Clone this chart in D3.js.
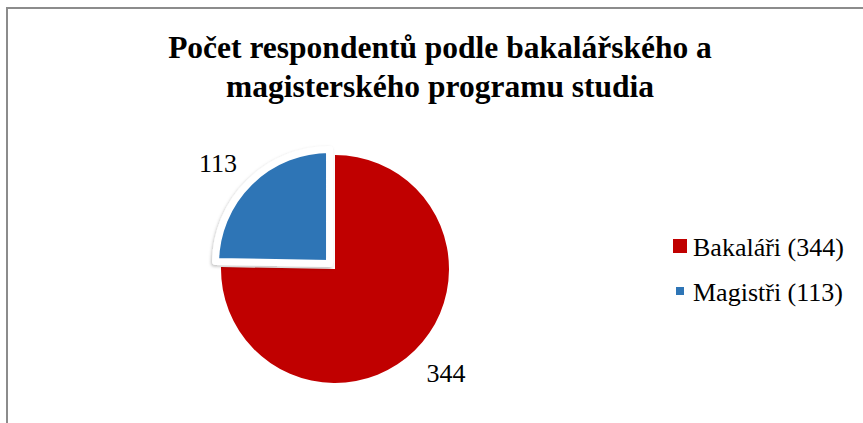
<!DOCTYPE html>
<html>
<head>
<meta charset="utf-8">
<script src="https://cdn.jsdelivr.net/npm/d3@7"></script>
<style>
  html, body { margin: 0; padding: 0; background: #ffffff; }
  svg { display: block; }
  svg text { font-family: "Liberation Serif", "Times New Roman", Times, "Nimbus Roman", "DejaVu Serif", serif; }
</style>
</head>
<body>
<svg id="chart" width="863" height="423"></svg>
<script>
const categories = ["Bakaláři", "Magistři"];
const values = [344, 113];
const colors = ["#C00000", "#2E75B6"];
const titleLines = ["Počet respondentů podle bakalářského a", "magisterského programu studia"];

const svg = d3.select("#chart");

// chart frame (extends beyond the picture on right and bottom)
svg.append("rect")
  .attr("x", 7).attr("y", 8)
  .attr("width", 900).attr("height", 500)
  .attr("fill", "#ffffff")
  .attr("stroke", "#8c8c8c")
  .attr("stroke-width", 2);

const defs = svg.append("defs");
const f = defs.append("filter").attr("id", "shadow")
  .attr("x", "-20%").attr("y", "-20%").attr("width", "140%").attr("height", "140%");
f.append("feDropShadow").attr("dx", -1).attr("dy", 1.5)
  .attr("stdDeviation", 1.8).attr("flood-color", "#000").attr("flood-opacity", 0.25);

// title
const title = svg.append("text")
  .attr("text-anchor", "middle")
  .attr("font-weight", "bold")
  .attr("font-size", 31.5)
  .attr("fill", "#000");
title.selectAll("tspan").data(titleLines).enter().append("tspan")
  .attr("x", 440)
  .attr("y", (d, i) => 58 + i * 39)
  .text(d => d);

// pie
const cx = 335, cy = 269, R = 114;
const pie = d3.pie().sort(null).value(d => d.value).startAngle(0).endAngle(2 * Math.PI);
const data = categories.map((c, i) => ({ cat: c, value: values[i], color: colors[i] }));
const arcs = pie(data);
const arc = d3.arc().innerRadius(0).outerRadius(R);
const explode = [0, 7.8];

const g = svg.append("g").attr("transform", `translate(${cx},${cy})`);
g.selectAll("path").data(arcs).enter().append("path")
  .attr("d", arc)
  .attr("fill", d => d.data.color)
  .attr("stroke", (d, i) => i === 1 ? "#ffffff" : "none")
  .attr("stroke-width", 7)
  .attr("stroke-linejoin", "round")
  .attr("filter", (d, i) => i === 1 ? "url(#shadow)" : null)
  .attr("transform", (d, i) => {
    const a = (d.startAngle + d.endAngle) / 2;
    return `translate(${Math.sin(a) * explode[i]},${-Math.cos(a) * explode[i]})`;
  });

// data labels
const labelPos = [[446, 382], [218, 172]];
svg.selectAll("text.lbl").data(arcs).enter().append("text")
  .attr("class", "lbl")
  .attr("x", (d, i) => labelPos[i][0])
  .attr("y", (d, i) => labelPos[i][1])
  .attr("text-anchor", "middle")
  .attr("font-size", 26)
  .attr("fill", "#000")
  .text(d => d.data.value);

// legend
const legend = svg.append("g");
const legY = [256, 301];
const sq = [14, 8];
data.forEach((d, i) => {
  const cyL = legY[i] - 10;
  legend.append("rect")
    .attr("x", 680 - sq[i] / 2).attr("y", cyL - sq[i] / 2)
    .attr("width", sq[i]).attr("height", sq[i])
    .attr("fill", d.color);
  legend.append("text")
    .attr("x", 693).attr("y", legY[i])
    .attr("font-size", 26)
    .attr("fill", "#000")
    .text(`${d.cat} (${d.value})`);
});
</script>
</body>
</html>
